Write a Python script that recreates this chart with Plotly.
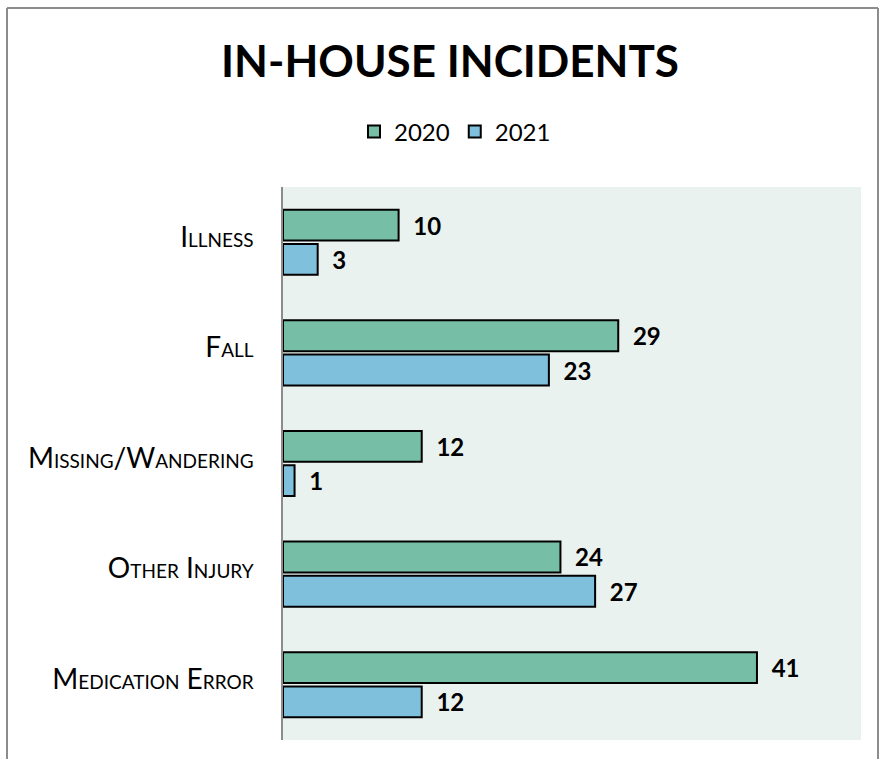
import plotly.graph_objects as go

# Incident categories (top to bottom) and yearly counts
categories = ["Illness", "Fall", "Missing/Wandering", "Other Injury", "Medication Error"]
counts_2020 = [10, 29, 12, 24, 41]
counts_2021 = [3, 23, 1, 27, 12]
series_names = ["2020", "2021"]

GREEN = "#76BEA6"
BLUE = "#7FC1DD"
FONT = "Lato"


def small_caps(text, big=28, small=19):
    """Render a label in small caps: initial letters large, the rest smaller capitals."""
    words = []
    for w in text.split(" "):
        parts = w.split("/")
        out = []
        for p in parts:
            out.append(p[0].upper() + f"<span style='font-size:{small}px'>{p[1:].upper()}</span>")
        words.append("/".join(out))
    return f"<span style='font-size:{big}px'>" + " ".join(words) + "</span>"


tick_labels = [small_caps(c) for c in categories]

fig = go.Figure()
for name, vals, col in [(series_names[0], counts_2020, GREEN), (series_names[1], counts_2021, BLUE)]:
    fig.add_trace(go.Bar(
        name=name, y=categories, x=vals, orientation="h",
        marker=dict(color=col, line=dict(color="black", width=2)),
        text=vals, texttemplate="\u00a0\u00a0%{text}", textposition="outside",
        textfont=dict(family=FONT, size=24, color="black", weight="bold"),
        cliponaxis=False,
    ))

W, H = 880, 759
L, R, T, B = 283, 19, 187, 19


def px_x(x):
    return (x - L) / (W - L - R)


def px_y(y):
    return (H - B - y) / (H - T - B)


# Chart frame (top, left, right edges)
frame = [
    dict(x0=px_x(7), x1=px_x(878), y0=px_y(8), y1=px_y(8)),
    dict(x0=px_x(7), x1=px_x(7), y0=px_y(8), y1=px_y(759)),
    dict(x0=px_x(878), x1=px_x(878), y0=px_y(8), y1=px_y(759)),
]
shapes = [dict(type="line", xref="paper", yref="paper", line=dict(color="#8C8C8C", width=2), **f)
          for f in frame]

fig.update_layout(
    width=W, height=H,
    margin=dict(l=L, r=R, t=T, b=B, pad=0),
    paper_bgcolor="white",
    plot_bgcolor="#EAF2EF",
    barmode="group",
    bargap=0.38,
    bargroupgap=0.1,
    title=dict(text="<b>IN-HOUSE INCIDENTS</b>", xref="container", x=450 / W, xanchor="center",
               yref="container", y=1 - 62 / H, yanchor="middle",
               font=dict(family=FONT, size=44, color="black")),
    legend=dict(orientation="h", x=px_x(455), xanchor="center", y=px_y(132), yanchor="middle",
                font=dict(family=FONT, size=24, color="black"),
                itemclick=False, traceorder="normal"),
    shapes=shapes,
    showlegend=True,
)
fig.update_xaxes(range=[0, 50], showgrid=False, zeroline=False, showticklabels=False,
                 showline=False, ticks="")
fig.update_yaxes(autorange="reversed", tickmode="array", tickvals=categories, ticktext=tick_labels,
                 tickfont=dict(family=FONT, color="black"), ticks="", ticklen=0,
                 showline=True, linecolor="#8C8C8C", linewidth=2, showgrid=False,
                 ticklabelstandoff=25)

fig.write_html("out.html")
